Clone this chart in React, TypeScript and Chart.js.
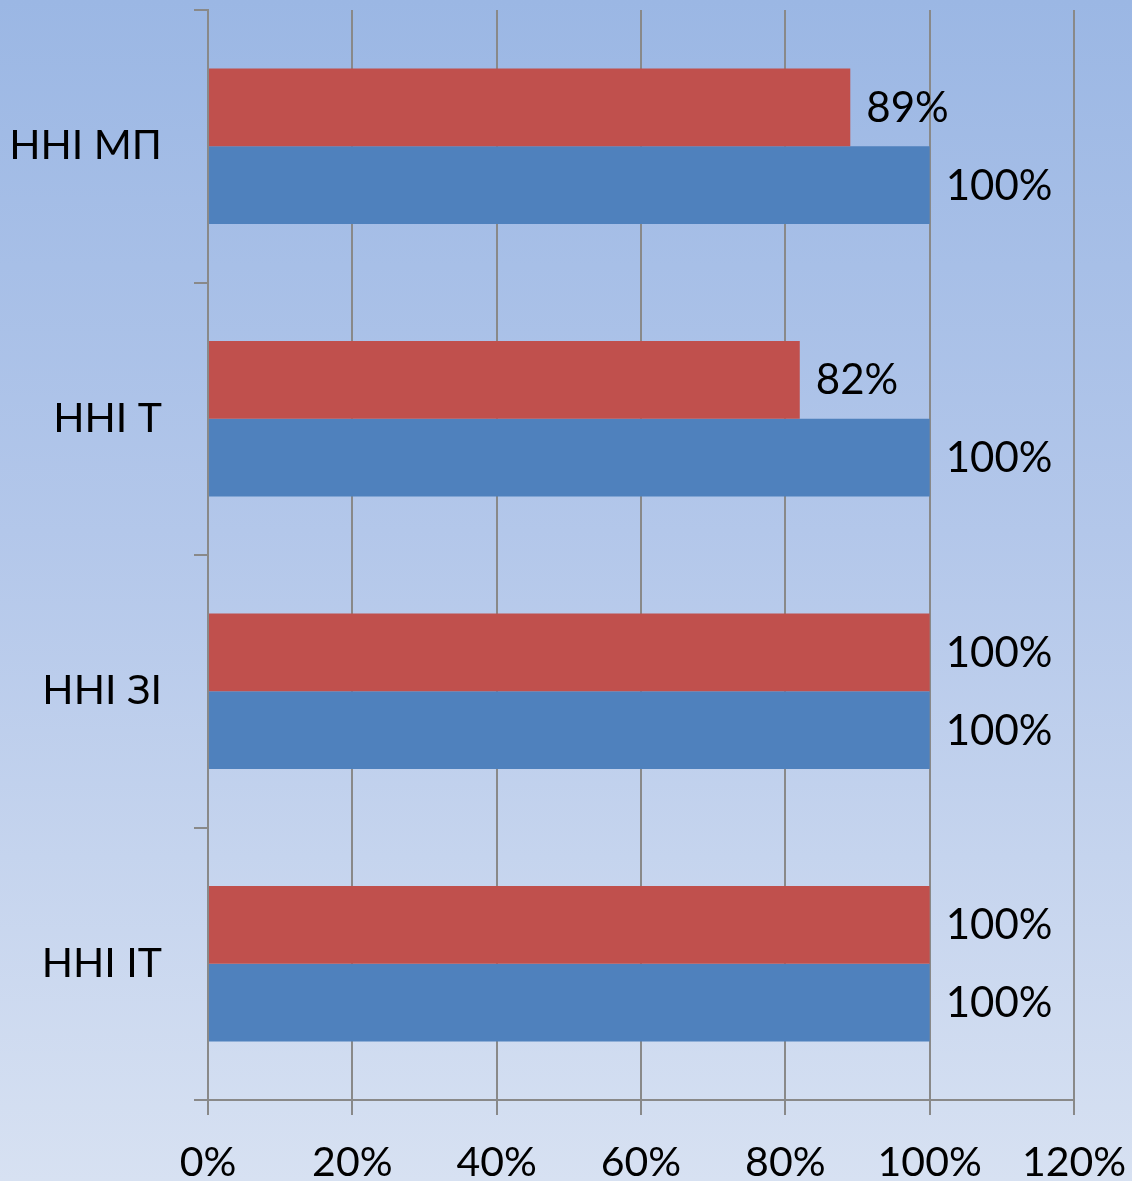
import React, { useEffect, useRef } from "react";
import { Chart, registerables } from "chart.js";

Chart.register(...registerables);

const categories = ["ННІ МП", "ННІ Т", "ННІ ЗІ", "ННІ ІТ"];
const redValues = [89, 82, 100, 100];
const blueValues = [100, 100, 100, 100];
const xTicks = [0, 20, 40, 60, 80, 100, 120];

const FONT = "Lato, 'Open Sans', sans-serif";
const GRID = "#898989";

const labelPlugin = {
  id: "barLabels",
  afterDatasetsDraw(chart: any) {
    const ctx = chart.ctx;
    ctx.save();
    ctx.font = `42px ${FONT}`;
    ctx.fillStyle = "#000";
    ctx.textAlign = "left";
    ctx.textBaseline = "middle";
    chart.data.datasets.forEach((ds: any, di: number) => {
      const meta = chart.getDatasetMeta(di);
      meta.data.forEach((bar: any, i: number) => {
        ctx.fillText(`${ds.data[i]}%`, bar.x + 16, bar.y + 1);
      });
    });
    ctx.restore();
  },
};

export default function App() {
  const ref = useRef<HTMLCanvasElement>(null);
  useEffect(() => {
    document.body.style.margin = "0";
    const chart = new Chart(ref.current!, {
      type: "bar",
      data: {
        labels: categories,
        datasets: [
          { label: "red", data: redValues, backgroundColor: "#C0504D", categoryPercentage: 0.57, barPercentage: 1 },
          { label: "blue", data: blueValues, backgroundColor: "#4F81BD", categoryPercentage: 0.57, barPercentage: 1 },
        ],
      },
      options: {
        indexAxis: "y",
        responsive: false,
        animation: false,
        layout: { padding: { top: 10, right: 58, left: 0, bottom: 0 } },
        plugins: { legend: { display: false }, tooltip: { enabled: false } },
        scales: {
          x: {
            min: 0,
            max: 120,
            afterBuildTicks: (s: any) => {
              s.ticks = xTicks.map((v) => ({ value: v }));
            },
            afterFit: (s: any) => {
              s.height = 81;
              s.paddingLeft = 0;
              s.paddingRight = 0;
            },
            ticks: {
              callback: (v: any) => `${v}%`,
              color: "#000",
              font: { family: FONT, size: 41 },
              padding: 23,
              maxRotation: 0,
            },
            grid: { color: GRID, lineWidth: 2, tickLength: 15 },
            border: { color: GRID, width: 2 },
          },
          y: {
            afterFit: (s: any) => {
              s.width = 208;
              s.paddingTop = 0;
              s.paddingBottom = 0;
            },
            ticks: {
              color: "#000",
              font: { family: FONT, size: 41 },
              padding: 32,
            },
            grid: { color: GRID, lineWidth: 2, tickLength: 14, drawOnChartArea: false, offset: true },
            border: { color: GRID, width: 2 },
          },
        },
      },
      plugins: [labelPlugin],
    });
    return () => chart.destroy();
  }, []);
  return (
    <div
      style={{
        position: "absolute",
        left: 0,
        top: 0,
        width: 1132,
        height: 1181,
        background: "linear-gradient(to bottom, #9bb7e4 0%, #b3c7ea 45%, #d7e1f2 100%)",
      }}
    >
      <canvas ref={ref} width={1132} height={1181} />
    </div>
  );
}
